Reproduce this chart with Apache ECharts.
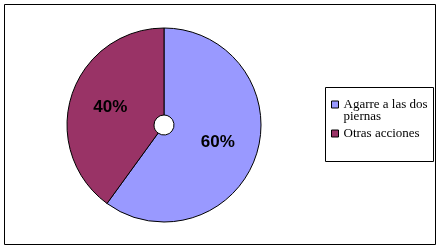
<!DOCTYPE html>
<html>
<head>
<meta charset="utf-8">
<script src="https://cdn.jsdelivr.net/npm/echarts@6/dist/echarts.min.js"></script>
<style>
html,body{margin:0;padding:0;background:#fff;}
#c{width:440px;height:249px;}
</style>
</head>
<body>
<div id="c"></div>
<script>
const categories = ['Agarre a las dos piernas', 'Otras acciones'];
const legendLabels = ['\u00a0\nAgarre a las dos\npiernas', 'Otras acciones'];
const values = [60, 40];
const colors = ['#9999FF', '#993366'];

const chart = echarts.init(document.getElementById('c'), null, {renderer: 'canvas'});
chart.setOption({
  animation: false,
  backgroundColor: '#fff',
  color: colors,
  graphic: [
    {type: 'rect', shape: {x: 4.5, y: 4.5, width: 431, height: 240}, style: {fill: 'none', stroke: '#000', lineWidth: 1}, z: 0},
    {type: 'rect', shape: {x: 325.5, y: 87.5, width: 108, height: 74}, style: {fill: '#fff', stroke: '#000', lineWidth: 1}, z: 0}
  ],
  legend: {
    orient: 'vertical',
    left: 331,
    top: 86,
    padding: 0,
    itemGap: 4,
    itemWidth: 7,
    itemHeight: 7,
    icon: 'rect',
    itemStyle: {borderColor: '#000', borderWidth: 1},
    data: categories,
    formatter: function (name) { return legendLabels[categories.indexOf(name)]; },
    textStyle: {fontFamily: 'Liberation Serif', fontSize: 13, lineHeight: 12, color: '#000'}
  },
  series: [{
    type: 'pie',
    center: [164, 125],
    radius: [10, 97],
    startAngle: 90,
    clockwise: true,
    z: 2,
    itemStyle: {borderColor: '#000', borderWidth: 1},
    label: {
      show: true,
      position: 'inside',
      formatter: '{c}%',
      fontFamily: 'Liberation Sans',
      fontWeight: 'bold',
      fontSize: 17,
      color: '#000'
    },
    labelLine: {show: false},
    emphasis: {disabled: true},
    data: categories.map((n, i) => ({name: n, value: values[i]}))
  }]
});
</script>
</body>
</html>
